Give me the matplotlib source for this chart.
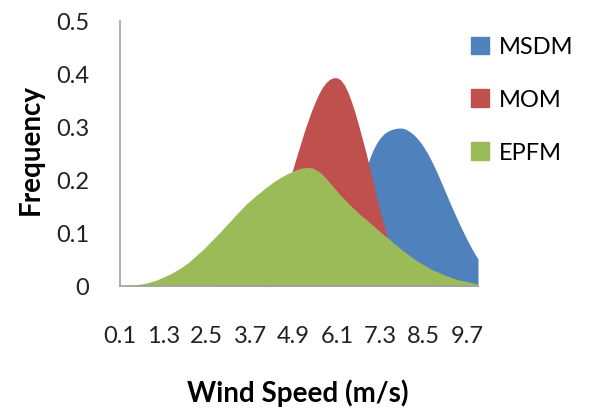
import matplotlib
matplotlib.use("Agg")
import matplotlib.pyplot as plt
from matplotlib.patches import Patch

plt.rcParams['font.family'] = ['Lato', 'DejaVu Sans']

# wind speed categories, 0.1 to 10.0 m/s in 0.1 steps
speeds = ["%.1f" % ((k + 1) / 10) for k in range(100)]

msdm = [0, 0, 0, 0, 0, 0, 0, 0, 0, 0,
        0, 0, 0, 0, 0, 0, 0, 0, 0, 0,
        0, 0, 0, 0, 0, 0, 0, 0, 0, 0,
        0, 0, 0, 0, 0, 0, 0, 0, 0, 0,
        0.000, 0.001, 0.001, 0.001, 0.002, 0.002, 0.003, 0.004, 0.005, 0.006,
        0.008, 0.010, 0.013, 0.016, 0.020, 0.025, 0.030, 0.037, 0.045, 0.054,
        0.065, 0.078, 0.093, 0.110, 0.129, 0.150, 0.173, 0.196, 0.219, 0.240,
        0.257, 0.270, 0.280, 0.287, 0.292, 0.295, 0.297, 0.298, 0.298, 0.296,
        0.292, 0.287, 0.280, 0.272, 0.262, 0.251, 0.238, 0.224, 0.209, 0.193,
        0.177, 0.161, 0.145, 0.130, 0.115, 0.101, 0.087, 0.074, 0.062, 0.051]

mom = [0, 0, 0, 0, 0, 0, 0, 0, 0, 0,
       0, 0, 0, 0, 0, 0, 0, 0, 0, 0,
       0, 0, 0, 0, 0, 0, 0, 0.001, 0.002, 0.003,
       0.005, 0.007, 0.010, 0.014, 0.019, 0.025, 0.032, 0.040, 0.050, 0.061,
       0.074, 0.088, 0.104, 0.121, 0.140, 0.160, 0.181, 0.203, 0.225, 0.248,
       0.270, 0.292, 0.312, 0.331, 0.348, 0.363, 0.375, 0.384, 0.390, 0.393,
       0.393, 0.389, 0.380, 0.366, 0.348, 0.327, 0.303, 0.278, 0.252, 0.224,
       0.195, 0.166, 0.139, 0.114, 0.092, 0.073, 0.057, 0.044, 0.033, 0.024,
       0.017, 0.012, 0.008, 0.005, 0.003, 0.002, 0.001, 0, 0, 0,
       0, 0, 0, 0, 0, 0, 0, 0, 0, 0]

epfm = [0.000, 0.000, 0.001, 0.001, 0.002, 0.003, 0.004, 0.005, 0.007, 0.009,
        0.011, 0.014, 0.017, 0.020, 0.023, 0.027, 0.031, 0.035, 0.040, 0.045,
        0.051, 0.057, 0.063, 0.069, 0.076, 0.083, 0.090, 0.097, 0.104, 0.112,
        0.119, 0.126, 0.134, 0.141, 0.148, 0.155, 0.161, 0.167, 0.173, 0.178,
        0.184, 0.189, 0.194, 0.199, 0.203, 0.207, 0.211, 0.214, 0.217, 0.220,
        0.222, 0.223, 0.224, 0.223, 0.220, 0.216, 0.210, 0.203, 0.195, 0.187,
        0.179, 0.171, 0.164, 0.157, 0.150, 0.144, 0.137, 0.131, 0.126, 0.120,
        0.114, 0.108, 0.102, 0.096, 0.091, 0.085, 0.079, 0.074, 0.068, 0.063,
        0.058, 0.053, 0.048, 0.044, 0.040, 0.036, 0.032, 0.029, 0.026, 0.023,
        0.020, 0.018, 0.015, 0.013, 0.011, 0.010, 0.008, 0.007, 0.005, 0.004]

names = ["MSDM", "MOM", "EPFM"]
colors = ["#4F81BD", "#C0504D", "#9BBB59"]

fig = plt.figure(figsize=(5.9, 4.1), dpi=100)
ax = fig.add_axes([120 / 590, 1 - 287 / 410, 358 / 590, 265 / 410])

x = list(range(len(speeds)))
for ys, c in zip([msdm, mom, epfm], colors):
    ax.fill_between(x, 0, ys, color=c, linewidth=0)

ax.set_xlim(0, len(speeds) - 1)
ax.set_ylim(0, 0.5)
ax.set_xticks(x[::12])
ax.set_xticklabels(speeds[::12])
ax.set_yticks([0, 0.1, 0.2, 0.3, 0.4, 0.5])
ax.set_yticklabels(["0", "0.1", "0.2", "0.3", "0.4", "0.5"])
ax.tick_params(axis='both', length=0, labelsize=17, colors="#222222")
ax.tick_params(axis='x', pad=28)
ax.tick_params(axis='y', pad=22)

for s in ["top", "right"]:
    ax.spines[s].set_visible(False)
for s in ["left", "bottom"]:
    ax.spines[s].set_color("#A0A0A0")
    ax.spines[s].set_linewidth(1.2)

ax.set_ylabel("Frequency", fontsize=20, fontweight="bold")
ax.yaxis.set_label_coords(-0.212, 0.517)
ax.set_xlabel("Wind Speed (m/s)", fontsize=20, fontweight="bold")
ax.xaxis.set_label_coords(0.497, -0.35)

handles = [Patch(color=c) for c in colors]
fig.legend(handles, names, loc="upper left", bbox_to_anchor=(462 / 590, 1 - 28 / 410),
           frameon=False, fontsize=17, handlelength=0.75, handleheight=0.75,
           handletextpad=0.4, labelspacing=1.35, borderaxespad=0)

fig.savefig("out.png", dpi=100)
